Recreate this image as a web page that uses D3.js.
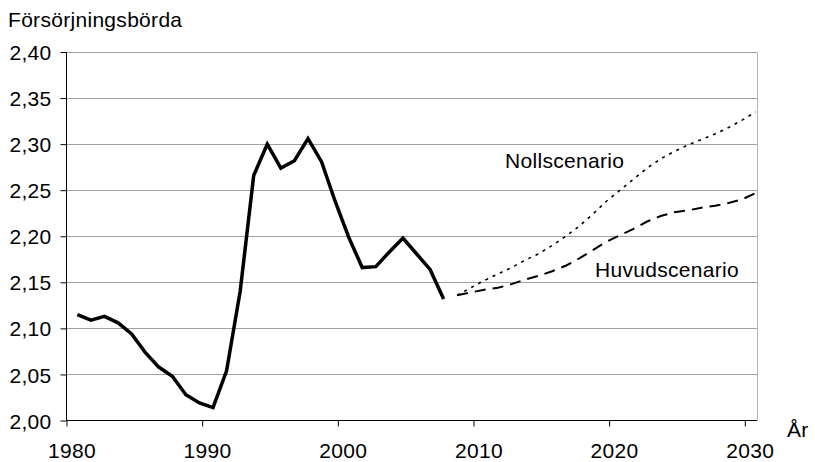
<!DOCTYPE html>
<html>
<head>
<meta charset="utf-8">
<script src="https://cdn.jsdelivr.net/npm/d3@7"></script>
<style>
  html, body { margin: 0; padding: 0; background: #fff; }
  svg text { font-family: "Liberation Sans", Arial, sans-serif; fill: #000; letter-spacing: 0.3px; }
</style>
</head>
<body>
<svg id="chart" width="815" height="462"></svg>
<script>
// ---- Data ----
const histYears = d3.range(1980, 2008);
const histValues = [2.115, 2.109, 2.113, 2.106, 2.094, 2.074, 2.058, 2.048, 2.028, 2.019,
                    2.014, 2.054, 2.140, 2.266, 2.300, 2.274, 2.282, 2.306, 2.281, 2.238,
                    2.199, 2.166, 2.167, 2.183, 2.198, 2.181, 2.164, 2.132];
const projYears = d3.range(2008, 2031);
const huvudValues = [2.136, 2.139, 2.142, 2.144, 2.148, 2.153, 2.157, 2.162, 2.168, 2.176,
                     2.185, 2.194, 2.201, 2.208, 2.216, 2.222, 2.226, 2.228, 2.231, 2.233,
                     2.236, 2.240, 2.247];
const nollValues = [2.136, 2.144, 2.152, 2.159, 2.166, 2.174, 2.181, 2.190, 2.200, 2.211,
                    2.224, 2.238, 2.250, 2.262, 2.274, 2.284, 2.292, 2.299, 2.305, 2.311,
                    2.318, 2.326, 2.335];
const xTickYears = [1980, 1990, 2000, 2010, 2020, 2030];
const yTicks = [2.00, 2.05, 2.10, 2.15, 2.20, 2.25, 2.30, 2.35, 2.40];
const yTitle = "Försörjningsbörda";
const xTitle = "År";
const labelNoll = "Nollscenario";
const labelHuvud = "Huvudscenario";

// ---- Layout ----
const mLeft = 66.5, mRight = 757, mTop = 52, mBottom = 420.5;
const fs = 21;
const svg = d3.select("#chart");

// category-centred positions: a year's value sits at year + 0.4 on a continuous scale
const x = d3.scaleLinear().domain([1979.6, 2030.5]).range([mLeft, mRight]);
const y = d3.scaleLinear().domain([2.00, 2.40]).range([mBottom, mTop]);
const fmt = v => d3.format(".2f")(v).replace(".", ",");

// gridlines
svg.append("g").selectAll("line").data(yTicks.filter(v => v > 2.0)).join("line")
  .attr("x1", mLeft).attr("x2", mRight)
  .attr("y1", d => Math.round(y(d)) + 0.5).attr("y2", d => Math.round(y(d)) + 0.5)
  .attr("stroke", "#a0a0a0").attr("stroke-width", 1);

// right border of plot area
svg.append("line")
  .attr("x1", mRight + 0.5).attr("x2", mRight + 0.5)
  .attr("y1", Math.round(y(2.40)) + 0.5).attr("y2", mBottom)
  .attr("stroke", "#b4b4b4").attr("stroke-width", 1);

// y axis
const yAxis = d3.axisLeft(y).tickValues(yTicks).tickFormat(fmt).tickSize(6).tickPadding(9);
const gy = svg.append("g").attr("transform", `translate(${mLeft},0)`).call(yAxis);
gy.select(".domain").attr("stroke", "#000").attr("d", `M0,${y(2.40)}V${mBottom}`);
gy.selectAll(".tick line").attr("stroke", "#000");
gy.selectAll(".tick text").attr("font-size", fs).attr("dy", "0.36em")
  .attr("font-family", "Liberation Sans, Arial, sans-serif").attr("fill", "#000");

// x axis (ticks at category boundaries, labels centred on category)
const xAxis = d3.axisBottom(x).tickValues(xTickYears.map(v => v - 0.4)).tickFormat("").tickSize(6);
const gx = svg.append("g").attr("transform", `translate(0,${mBottom})`).call(xAxis);
gx.select(".domain").attr("stroke", "#000").attr("d", `M${mLeft},0H${mRight}`);
gx.selectAll(".tick line").attr("stroke", "#000");
svg.append("g").selectAll("text").data(xTickYears).join("text")
  .attr("x", d => x(d)).attr("y", 458)
  .attr("text-anchor", "middle").attr("font-size", fs)
  .text(d => d);

// lines
const line = d3.line().x(d => x(d[0] + 0.4)).y(d => y(d[1]));
svg.append("path").datum(histYears.map((yr, i) => [yr, histValues[i]]))
  .attr("d", line).attr("fill", "none").attr("stroke", "#000")
  .attr("stroke-width", 3.5).attr("stroke-linejoin", "miter");
svg.append("path").datum(projYears.map((yr, i) => [yr, huvudValues[i]]))
  .attr("d", line).attr("fill", "none").attr("stroke", "#000")
  .attr("stroke-width", 2).attr("stroke-dasharray", "11,7");
svg.append("path").datum(projYears.map((yr, i) => [yr, nollValues[i]]))
  .attr("d", line).attr("fill", "none").attr("stroke", "#000")
  .attr("stroke-width", 1.6).attr("stroke-dasharray", "3,5");

// titles and labels
svg.append("text").attr("x", 8).attr("y", 27).attr("font-size", fs).text(yTitle);
svg.append("text").attr("x", 787).attr("y", 437).attr("font-size", fs).text(xTitle);
svg.append("text").attr("x", 505).attr("y", 168).attr("font-size", fs).text(labelNoll);
svg.append("text").attr("x", 595).attr("y", 277).attr("font-size", fs).text(labelHuvud);
</script>
</body>
</html>
